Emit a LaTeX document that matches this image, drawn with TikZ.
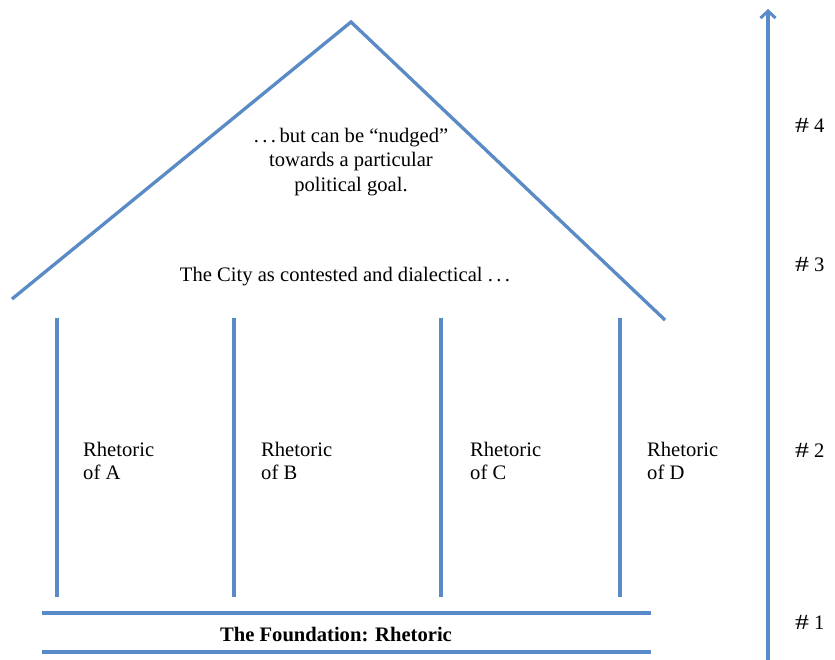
\documentclass[tikz,border=0pt]{standalone}
\usepackage{fontspec}
\usepackage{graphicx}
\setmainfont{Liberation Serif}
\usetikzlibrary{arrows.meta}
\definecolor{houseblue}{RGB}{88,139,200}
\definecolor{shadowgray}{RGB}{170,170,170}
\newcommand{\hashlbl}[1]{\scalebox{1.35}[1.05]{\#}\hspace{5pt}#1}
\begin{document}
\begin{tikzpicture}[x=1pt,y=-1pt,
  wall/.style={draw=houseblue,line width=3.2pt},
  shade/.style={draw=shadowgray,line width=3.2pt,opacity=0.6,shift={(1.6,1.6)}},
  lbl/.style={font=\fontsize{20.6}{24.5}\selectfont,align=center,inner sep=0pt},
  lbll/.style={font=\fontsize{20.6}{23.5}\selectfont,align=left,anchor=west,inner sep=0pt},
  num/.style={font=\fontsize{20.6}{26}\selectfont,anchor=west,inner sep=0pt}]
\useasboundingbox (0,0) rectangle (835,660);
% coordinates
\coordinate (roofL) at (12,299);
\coordinate (roofT) at (351,22);
\coordinate (roofR) at (665,320);
\foreach \n/\x in {A/57,B/234,C/441,D/620}{
  \coordinate (p\n top) at (\x,318);
  \coordinate (p\n bot) at (\x,597);
}
\coordinate (f1L) at (42,613); \coordinate (f1R) at (651,613);
\coordinate (f2L) at (42,652); \coordinate (f2R) at (651,652);
\coordinate (arrB) at (768,660); \coordinate (arrT) at (768,9);
% shadows
\draw[shade] (roofL) -- (roofT) -- (roofR);
\foreach \n in {A,B,C,D}{\draw[shade] (p\n top) -- (p\n bot);}
\draw[shade] (f1L) -- (f1R);
\draw[shade] (f2L) -- (f2R);
% lines
\draw[wall,line join=miter] (roofL) -- (roofT) -- (roofR);
\foreach \n in {A,B,C,D}{\draw[wall] (p\n top) -- (p\n bot);}
\draw[wall] (f1L) -- (f1R);
\draw[wall] (f2L) -- (f2R);
\draw[wall,-{Straight Barb[length=7pt,width=15pt,line width=3pt]}] (arrB) -- (arrT);
% texts
\node[lbl] (nudge) at (351,162) {.\,.\,.\,but can be “nudged”\\towards a particular\\political goal.};
\node[lbl] (city) at (345,277) {The City as contested and dialectical .\,.\,.};
\node[lbll] (rA) at (83,461) {Rhetoric\\of A};
\node[lbll] (rB) at (261,461) {Rhetoric\\of B};
\node[lbll] (rC) at (470,461) {Rhetoric\\of C};
\node[lbll] (rD) at (647,461) {Rhetoric\\of D};
\node[lbl,font=\fontsize{20.6}{26}\selectfont\bfseries] (found) at (336,634) {The Foundation: Rhetoric};
\node[num] (n4) at (795,125) {\hashlbl{4}};
\node[num] (n3) at (795,265) {\hashlbl{3}};
\node[num] (n2) at (795,450) {\hashlbl{2}};
\node[num] (n1) at (795,622) {\hashlbl{1}};
\end{tikzpicture}
\end{document}
